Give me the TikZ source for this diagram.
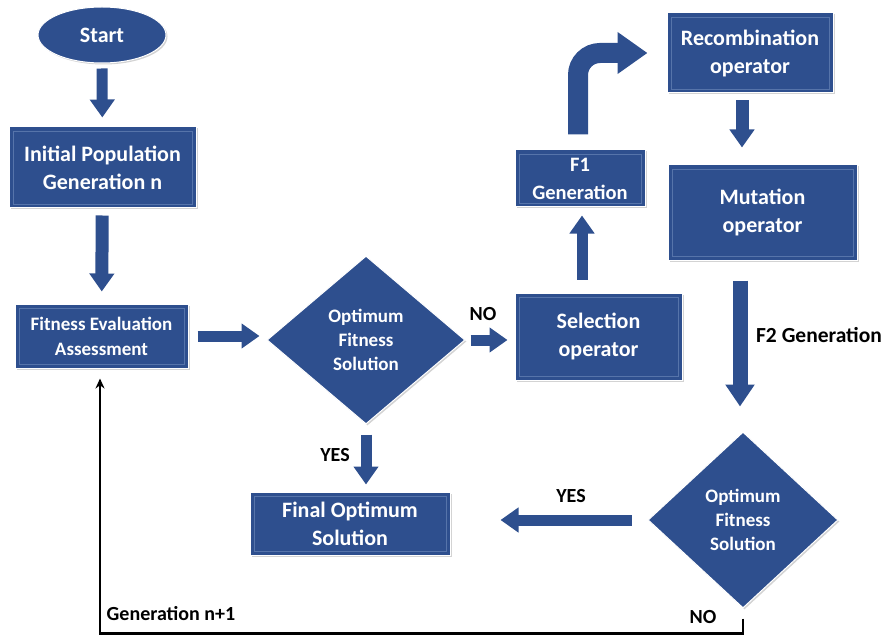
\documentclass[tikz,border=0pt]{standalone}
\usepackage{fontspec}
\setmainfont{Carlito}
\usetikzlibrary{shapes.geometric,arrows.meta,shadows}
\definecolor{gablue}{RGB}{46,79,142}
\definecolor{galine}{RGB}{86,116,170}

\begin{document}
\begin{tikzpicture}[x=1pt,y=-1pt,
  box/.style={rectangle, fill=gablue, draw=white, line width=1pt, text=white, align=center, inner sep=0pt,
    font=\fontsize{22}{28}\selectfont\bfseries,
    drop shadow={shadow xshift=1.5pt,shadow yshift=-1.5pt,opacity=.35},
    path picture={\draw[galine,line width=0.8pt] ([shift={(4pt,-4pt)}]path picture bounding box.north west) rectangle ([shift={(-4pt,4pt)}]path picture bounding box.south east);}},
  decision/.style={diamond, fill=gablue, draw=white, line width=1pt, text=white, align=center, inner sep=0pt,
    font=\fontsize{19}{24}\selectfont\bfseries,
    drop shadow={shadow xshift=1.5pt,shadow yshift=-1.5pt,opacity=.35}},
  terminal/.style={ellipse, fill=gablue, draw=white, line width=1pt, text=white, inner sep=0pt,
    font=\fontsize{22}{26}\selectfont\bfseries,
    drop shadow={shadow xshift=1.5pt,shadow yshift=-1.5pt,opacity=.35}},
  blockarrow/.style={draw=gablue, line width=11pt, -{Triangle[width=24pt,length=18pt]}},
  flowtag/.style={font=\fontsize{20}{22}\selectfont\bfseries, text=black, inner sep=0pt}]
\useasboundingbox (0,0) rectangle (890,636);
% nodes
\node[terminal, minimum width=128pt, minimum height=56pt] (start) at (102,35) {Start};
\node[box, minimum width=187pt, minimum height=81pt] (init) at (102.5,167.5) {Initial Population\\Generation n};
\node[box, minimum width=173pt, minimum height=64pt, font=\fontsize{19}{25}\selectfont\bfseries] (fit) at (101.5,336) {Fitness Evaluation\\Assessment};
\node[decision, minimum width=198pt, minimum height=168pt] (d1) at (366,340) {Optimum\\Fitness\\Solution};
\node[box, minimum width=200pt, minimum height=63pt] (final) at (350,523.5) {Final Optimum\\Solution};
\node[box, minimum width=167pt, minimum height=87pt] (sel) at (598.5,336.5) {Selection\\operator};
\node[box, minimum width=130pt, minimum height=57pt, font=\fontsize{20.5}{28}\selectfont\bfseries] (f1) at (580,178.5) {F1\\Generation};
\node[box, minimum width=166pt, minimum height=80pt] (recomb) at (750,53) {Recombination\\operator};
\node[box, minimum width=189pt, minimum height=95pt] (mut) at (762.5,212.5) {Mutation\\operator};
\node[decision, minimum width=190pt, minimum height=176pt] (d2) at (743,520) {Optimum\\Fitness\\Solution};
% connectors
\draw[blockarrow, shorten <=5pt, shorten >=9pt] (start) -- (init);
\draw[blockarrow, line width=13pt, shorten <=7pt, shorten >=12pt] (init) -- (fit);
\draw[blockarrow, shorten <=9pt, shorten >=7pt] (fit.east) -- (fit.east -| d1.west);
\draw[blockarrow, shorten <=5pt, shorten >=7pt] (d1.east) -- (d1.east -| sel.west);
\draw[blockarrow, shorten <=10pt, shorten >=7pt] (d1.south) -- (d1.south |- final.north);
\draw[blockarrow, shorten <=13pt, shorten >=8pt] ([xshift=2pt]f1.south |- sel.north) -- ([xshift=2pt]f1.south);
\draw[blockarrow, line width=20pt, rounded corners=22pt, -{Triangle[width=40pt,length=30pt]}, shorten <=15pt, shorten >=19pt] ([xshift=-2pt]f1.north) |- (recomb.west);
\draw[blockarrow, line width=13pt, shorten <=7pt, shorten >=17pt] ([xshift=-8pt]recomb.south) -- ([xshift=-8pt]recomb.south |- mut.north);
\draw[blockarrow, line width=15pt, -{Triangle[width=28pt,length=22pt]}, shorten <=20pt, shorten >=25pt] ([xshift=-3pt]d2.north |- mut.south) -- ([xshift=-3pt]d2.north);
\draw[blockarrow, shorten <=16pt, shorten >=50pt] (d2.west) -- (d2.west -| final.east);
\draw[black, line width=2.5pt, -{Stealth[length=10pt,width=9pt]}, shorten >=10pt] ([yshift=-10pt]d2.south) -- ++(0,15) -| ([xshift=-1.5pt]fit.south);
% labels
\node[flowtag] (no1) at (483,314) {NO};
\node[flowtag] (yes1) at (335,455) {YES};
\node[flowtag] (yes2) at (571,496) {YES};
\node[flowtag] (no2) at (703,617) {NO};
\node[flowtag] (gen) at (171,614) {Generation n+1};
\node[flowtag, font=\fontsize{21.5}{24}\selectfont\bfseries] (f2) at (819,335) {F2 Generation};
\end{tikzpicture}
\end{document}
